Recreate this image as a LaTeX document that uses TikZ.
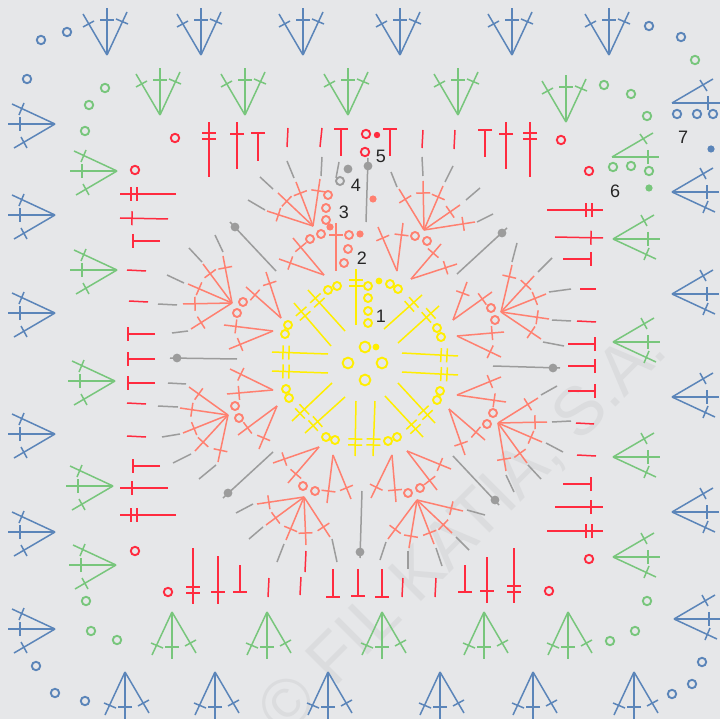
\documentclass[tikz,border=0pt]{standalone}
\usepackage{fontspec}
\setmainfont{Liberation Sans}
\usetikzlibrary{calc}
\definecolor{sheetgray}{HTML}{E6E7E9}
\definecolor{markgray}{HTML}{DBDCDE}
\definecolor{rowyellow}{HTML}{FFEE00}
\definecolor{rowsalmon}{HTML}{FF8070}
\definecolor{rowgray}{HTML}{9C9C9C}
\definecolor{rowred}{HTML}{FF2B3F}
\definecolor{rowgreen}{HTML}{78C67C}
\definecolor{rowblue}{HTML}{5B85B9}
\newcommand{\stembars}[5]{%
    \draw (#1,#2) -- (#3,#4);
    \foreach \dist in {#5}
        \draw ($(#3,#4)!\dist pt!(#1,#2)!7pt!90:(#1,#2)$) -- ($(#3,#4)!\dist pt!(#1,#2)!7pt!-90:(#1,#2)$);
}
\newcommand{\stemcluster}[3]{%
    \foreach \tx/\ty in {#3}
        \stembars{#1}{#2}{\tx}{\ty}{12};
}
\tikzset{
    shellfan/.pic={
        \draw (0,0) -- (-24,-41) (-24,-28) -- (-13,-34);
        \draw (0,0) -- (0,-47) (-7,-35) -- (7,-35);
        \draw (0,0) -- (20,-43) (9,-36) -- (21,-31);
    }
}
\begin{document}
\begin{tikzpicture}[
    x=1pt, y=-1pt,
    stitch/.style={line width=1.5pt},
    ring/.style={line width=1.9pt},
    yellowst/.style={stitch, color=rowyellow},
    salmonst/.style={stitch, color=rowsalmon},
    grayst/.style={stitch, color=rowgray},
    redst/.style={stitch, color=rowred},
    greenst/.style={stitch, color=rowgreen},
    bluest/.style={stitch, color=rowblue},
    roundno/.style={font=\fontsize{18}{18}\selectfont, text=black!85, inner sep=0pt}
]
\useasboundingbox (0,0) rectangle (720,719);
\clip (0,0) rectangle (720,719);
\fill[sheetgray] (0,0) rectangle (720,719);
\node[rotate=45, anchor=base, text=markgray, font=\fontsize{68}{68}\selectfont, inner sep=0pt] (mark) at (478,545) {© FIL KATIA, S.A.};

\begin{scope}[yellowst]
    \foreach \xa/\ya/\xb/\yb in {
        356/325/356/269, 345/331/308/290, 331/346/294/303, 384/329/422/295,
        398/343/439/306, 402/353/458/356, 402/372/458/375, 398/383/435/423,
        385/396/423/437, 356/401/355/456, 375/401/373/456, 332/383/292/421,
        345/397/305/433, 328/354/272/352, 328/373/272/371}
        \stembars{\xa}{\ya}{\xb}{\yb}{11,17};
    \foreach \x/\y in {365/347, 348/363, 382/363, 365/380}
        \draw[ring] (\x,\y) circle (5.4pt);
    \foreach \x/\y in {
        368/286, 368/298, 368/311, 368/323, 390/284, 398/289, 437/328, 441/337,
        440/391, 437/400, 397/437, 388/441, 335/440, 326/437, 289/398, 286/389,
        285/334, 288/325, 328/290, 337/286}
        \draw[ring] (\x,\y) circle (4pt);
    \foreach \x/\y in {376/347, 379/281}
        \fill (\x,\y) circle (3.4pt);
\end{scope}

\begin{scope}[salmonst]
    \stemcluster{313}{226}{267/211, 278/193, 296/182, 320/179}
    \stemcluster{232}{303}{188/284, 203/264, 223/256, 183/304, 191/329}
    \stemcluster{228}{415}{189/387, 180/408, 183/433, 195/451, 218/462}
    \stemcluster{304}{497}{257/504, 266/525, 286/540, 306/545, 330/537}
    \stemcluster{417}{500}{388/539, 409/548, 434/544, 452/533, 463/511}
    \stemcluster{498}{423}{538/398, 547/422, 542/442, 527/463, 506/471}
    \stemcluster{501}{312}{541/339, 549/319, 546/294, 534/276, 512/265}
    \stemcluster{424}{230}{399/189, 423/181, 443/186, 460/205, 475/222}
    \stemcluster{324}{275}{279/259, 293/238}
    \stemcluster{281}{318}{246/287, 266/272}
    \stemcluster{273}{331}{224/325, 229/349}
    \stemcluster{273}{390}{230/369, 227/394}
    \stemcluster{277}{406}{238/435, 259/449}
    \stemcluster{319}{447}{273/463, 288/483}
    \stemcluster{333}{455}{327/503, 351/499}
    \stemcluster{392}{455}{371/498, 396/502}
    \stemcluster{407}{451}{437/490, 451/469}
    \stemcluster{449}{409}{465/455, 485/440}
    \stemcluster{457}{395}{506/402, 501/377}
    \stemcluster{457}{336}{504/332, 501/357}
    \stemcluster{453}{320}{467/282, 492/292}
    \stemcluster{411}{279}{457/264, 441/244}
    \stemcluster{397}{271}{378/227, 403/223}
    \stemcluster{336}{271}{336/223}
    \foreach \x/\y in {
        328/195, 326/208, 326/220, 321/234, 310/239, 243/302, 237/313, 349/235,
        348/249, 344/263, 415/236, 427/241, 491/308, 495/320, 235/406, 239/418,
        303/486, 315/491, 408/493, 420/488, 487/424, 493/413}
        \draw[ring] (\x,\y) circle (4pt);
    \foreach \x/\y in {330/227, 360/234, 373/199}
        \fill (\x,\y) circle (3.6pt);
\end{scope}

\begin{scope}[grayst]
    \foreach \xa/\ya/\xb/\yb in {
        230/222/276/271, 457/274/507/228, 223/498/273/452, 453/456/499/505,
        170/358/237/359, 493/366/560/368, 366/222/368/158, 362/491/360/558,
        287/161/294/178, 322/157/321/176, 339/162/336/178, 260/177/273/189,
        248/200/265/210, 215/235/223/252, 189/248/202/262, 167/275/184/283,
        158/304/177/305, 172/333/188/331, 391/172/397/187, 422/157/423/176,
        453/166/445/182, 480/188/466/200, 493/214/477/222, 517/243/512/262,
        552/258/538/272, 571/289/549/292, 571/321/552/320, 564/346/543/342,
        557/386/541/395, 571/421/552/422, 563/452/546/443, 541/479/528/465,
        514/492/506/475, 485/515/467/510, 469/550/456/537, 442/566/436/548,
        408/569/408/551, 380/560/386/542, 337/562/332/539, 277/562/284/544,
        249/539/263/527, 236/513/253/504, 199/479/216/465, 173/463/191/454,
        162/437/180/434, 158/406/178/407, 168/383/186/384}
        \draw (\xa,\ya) -- (\xb,\yb);
    \draw[ring] (340,181) circle (4pt);
    \foreach \x/\y in {235/227, 502/233, 228/493, 495/500, 177/358, 553/368, 368/166, 360/552, 348/169}
        \fill (\x,\y) circle (4.4pt);
\end{scope}

\begin{scope}[redst]
    \foreach \xa/\ya/\xb/\yb in {
        258/161/258/133, 341/156/341/129, 390/156/390/129, 485/157/485/130,
        563/259/591/259, 568/344/595/344, 568/366/595/366, 568/391/595/391,
        563/484/591/484, 240/565/240/592, 333/569/333/597, 358/569/358/596,
        382/569/382/597, 465/565/465/592, 160/241/133/241, 155/334/128/334,
        155/359/128/359, 155/383/128/383, 160/466/133/466}
        \stembars{\xa}{\ya}{\xb}{\yb}{0};
    \foreach \xa/\ya/\xb/\yb in {
        237/169/237/122, 506/169/506/122, 555/237/603/238, 555/507/603/507,
        218/556/218/604, 487/557/487/603, 168/219/120/218, 168/488/120/488}
        \stembars{\xa}{\ya}{\xb}{\yb}{12};
    \foreach \xa/\ya/\xb/\yb in {
        209/177/209/122, 530/177/530/122, 547/210/603/210, 547/531/603/531,
        193/548/193/604, 514/548/514/603, 176/194/120/194, 176/515/120/515}
        \stembars{\xa}{\ya}{\xb}{\yb}{11,17};
    \foreach \xa/\ya/\xb/\yb in {
        288/128/287/147, 322/128/320/147, 423/130/422/148, 455/130/454/149,
        580/289/596/289, 577/321/596/322, 576/423/594/424, 577/455/596/456,
        269/578/268/597, 301/577/300/595, 403/578/402/597, 436/578/435/597,
        305/572/306/551, 127/270/146/271, 129/301/148/302, 127/403/146/404,
        127/436/146/437}
        \draw (\xa,\ya) -- (\xb,\yb);
    \foreach \x/\y in {175/138, 135/170, 135/551, 168/592, 589/559, 549/591, 561/140, 589/171, 366/134, 365/152}
        \draw[ring] (\x,\y) circle (4.2pt);
    \fill (377,135) circle (3.2pt);
\end{scope}

\begin{scope}[greenst]
    \foreach \x/\y in {160/115, 245/115, 348/115, 458/115, 566/122}
        \pic at (\x,\y) {shellfan};
    \foreach \x in {172, 267, 382, 484, 568}
        \pic[rotate=180] at (\x,612) {shellfan};
    \foreach \x/\y in {117/171, 117/270, 115/381, 113/486, 116/565}
        \pic[rotate=90] at (\x,\y) {shellfan};
    \foreach \y in {239, 342, 457, 557}
        \pic[rotate=-90] at (613,\y) {shellfan};
    \draw (612,157) -- (653,133) (640,134) -- (647,144);
    \draw (612,157) -- (659,157) (648,150) -- (648,164);
    \foreach \x/\y in {
        105/88, 89/105, 85/131, 604/85, 631/94, 647/116, 695/60, 613/167, 631/166,
        649/171, 86/601, 91/631, 117/640, 647/601, 635/631, 610/641}
        \draw[ring] (\x,\y) circle (4.2pt);
    \fill (649,188) circle (3.6pt);
\end{scope}

\begin{scope}[bluest]
    \foreach \x in {107, 201, 303, 400, 512, 609}
        \pic at (\x,55) {shellfan};
    \foreach \x in {125, 215, 328, 440, 533, 634}
        \pic[rotate=180] at (\x,672) {shellfan};
    \foreach \y in {124, 215, 313, 434, 532, 629}
        \pic[rotate=90] at (55,\y) {shellfan};
    \foreach \x/\y in {672/192, 672/294, 672/397, 672/512, 674/619}
        \pic[rotate=-90] at (\x,\y) {shellfan};
    \draw (672,103) -- (713,79) (700,80) -- (707,91);
    \draw (672,103) -- (720,103) (708,96) -- (708,110);
    \foreach \x/\y in {
        41/40, 67/32, 27/79, 649/26, 681/37, 677/114, 697/114, 713/114,
        36/666, 55/693, 85/701, 702/662, 692/684, 672/694}
        \draw[ring] (\x,\y) circle (4.2pt);
    \fill (711,149) circle (3.6pt);
\end{scope}

\node[roundno] (round1) at (381,316) {1};
\node[roundno] (round2) at (362,258) {2};
\node[roundno] (round3) at (344,212) {3};
\node[roundno] (round4) at (356,185) {4};
\node[roundno] (round5) at (381,156) {5};
\node[roundno] (round6) at (615,191) {6};
\node[roundno] (round7) at (683,137) {7};
\end{tikzpicture}
\end{document}
